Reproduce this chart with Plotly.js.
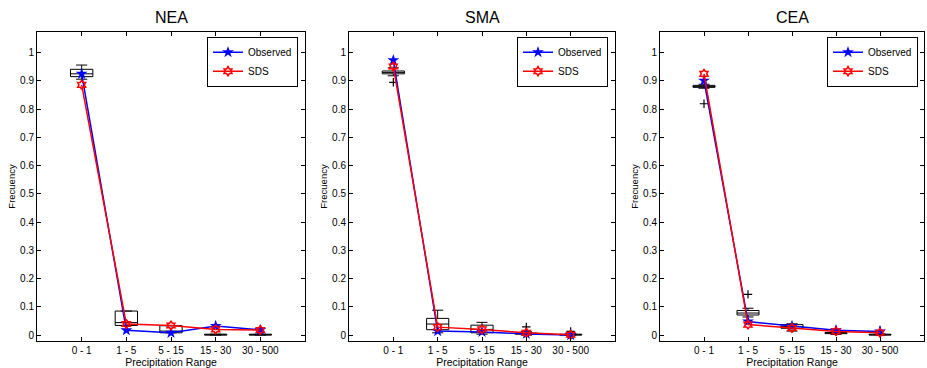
<!DOCTYPE html>
<html>
<head>
<meta charset="utf-8">
<script src="https://cdn.plot.ly/plotly-3.0.1.min.js"></script>
<style>html,body{margin:0;padding:0;background:#fff;}#chart{width:927px;height:368px;}</style>
</head>
<body>
<div id="chart"></div>
<script>
// ---- data ----
const categories = ['0 - 1', '1 - 5', '5 - 15', '15 - 30', '30 - 500'];
const regions = ['NEA', 'SMA', 'CEA'];

const neaObserved = [0.925, 0.017, 0.008, 0.032, 0.018];
const neaSDS      = [0.886, 0.039, 0.034, 0.020, 0.018];
const neaQ1       = [0.915, 0.034, 0.008, 0.000, 0.000];
const neaMedian   = [0.925, 0.044, 0.014, 0.001, 0.001];
const neaQ3       = [0.941, 0.085, 0.033, 0.003, 0.003];
const neaLower    = [0.906, 0.034, 0.008, 0.000, 0.000];
const neaUpper    = [0.956, 0.085, 0.033, 0.003, 0.003];
const neaOutlierX = [];
const neaOutlierY = [];

const smaObserved = [0.973, 0.014, 0.011, 0.004, 0.000];
const smaSDS      = [0.951, 0.028, 0.020, 0.008, 0.001];
const smaQ1       = [0.925, 0.019, 0.008, 0.003, 0.000];
const smaMedian   = [0.930, 0.039, 0.020, 0.005, 0.001];
const smaQ3       = [0.935, 0.059, 0.035, 0.007, 0.003];
const smaLower    = [0.918, 0.008, 0.003, 0.000, 0.000];
const smaUpper    = [0.946, 0.088, 0.045, 0.012, 0.006];
const smaOutlierX = ['0 - 1', '15 - 30', '30 - 500'];
const smaOutlierY = [0.895, 0.029, 0.013];

const ceaObserved = [0.901, 0.048, 0.032, 0.017, 0.013];
const ceaSDS      = [0.925, 0.037, 0.025, 0.013, 0.008];
const ceaQ1       = [0.877, 0.071, 0.024, 0.005, 0.000];
const ceaMedian   = [0.880, 0.078, 0.030, 0.007, 0.001];
const ceaQ3       = [0.884, 0.087, 0.037, 0.009, 0.003];
const ceaLower    = [0.874, 0.064, 0.014, 0.002, 0.000];
const ceaUpper    = [0.888, 0.095, 0.040, 0.012, 0.004];
const ceaOutlierX = ['0 - 1', '1 - 5', '15 - 30', '30 - 500'];
const ceaOutlierY = [0.819, 0.144, 0.018, 0.016];

const yTicks = [0, 0.1, 0.2, 0.3, 0.4, 0.5, 0.6, 0.7, 0.8, 0.9, 1];

// ---- build ----
const panels = [
  {obs: neaObserved, sds: neaSDS, q1: neaQ1, med: neaMedian, q3: neaQ3, lo: neaLower, hi: neaUpper, ox: neaOutlierX, oy: neaOutlierY},
  {obs: smaObserved, sds: smaSDS, q1: smaQ1, med: smaMedian, q3: smaQ3, lo: smaLower, hi: smaUpper, ox: smaOutlierX, oy: smaOutlierY},
  {obs: ceaObserved, sds: ceaSDS, q1: ceaQ1, med: ceaMedian, q3: ceaQ3, lo: ceaLower, hi: ceaUpper, ox: ceaOutlierX, oy: ceaOutlierY}
];

const W = 927, H = 368;
const xPix = [[37, 305], [349, 615], [660, 924]];
const yPix = [32.3, 340.7];
const FONT = 'Liberation Sans, Arial, Helvetica, sans-serif';

const traces = [];
const layout = {
  width: W, height: H,
  margin: {l: 0, r: 0, t: 0, b: 0},
  paper_bgcolor: '#fff', plot_bgcolor: '#fff',
  font: {family: FONT, size: 10, color: '#000'},
  showlegend: true,
  annotations: []
};

panels.forEach((p, i) => {
  const s = i === 0 ? '' : String(i + 1);
  const xa = 'x' + s, ya = 'y' + s;
  const lg = i === 0 ? 'legend' : 'legend' + (i + 1);

  traces.push({
    type: 'box', x: categories, q1: p.q1, median: p.med, q3: p.q3,
    lowerfence: p.lo, upperfence: p.hi,
    width: 0.5, whiskerwidth: 0.5, boxpoints: false,
    line: {color: '#000', width: 1}, fillcolor: 'rgba(0,0,0,0)',
    xaxis: xa, yaxis: ya, showlegend: false, hoverinfo: 'skip'
  });
  traces.push({
    type: 'scatter', mode: 'markers', x: p.ox, y: p.oy,
    marker: {symbol: 'cross-thin', size: 6, line: {color: '#000', width: 1.2}},
    xaxis: xa, yaxis: ya, showlegend: false, hoverinfo: 'skip'
  });
  traces.push({
    type: 'scatter', mode: 'lines+markers', name: 'Observed', x: categories, y: p.obs,
    line: {color: '#0000ff', width: 1.5},
    marker: {symbol: 'star', size: 9, color: '#0000ff'},
    xaxis: xa, yaxis: ya, legend: lg
  });
  traces.push({
    type: 'scatter', mode: 'lines+markers', name: 'SDS', x: categories, y: p.sds,
    line: {color: '#ff0000', width: 1.5},
    marker: {symbol: 'hexagram-open', size: 7, color: '#ff0000', line: {width: 1.5, color: '#ff0000'}},
    xaxis: xa, yaxis: ya, legend: lg
  });

  const dom = [xPix[i][0] / W, xPix[i][1] / W];
  layout['xaxis' + s] = {
    domain: dom, anchor: ya, type: 'category',
    categoryorder: 'array', categoryarray: categories,
    range: [-1, 5], showgrid: false, zeroline: false,
    showline: true, linecolor: '#000', linewidth: 1, mirror: 'ticks',
    ticks: 'inside', ticklen: 4, tickcolor: '#000',
    tickfont: {family: FONT, size: 10, color: '#000'},
    title: {text: 'Precipitation Range', font: {family: FONT, size: 10.5, color: '#000'}, standoff: 2}
  };
  layout['yaxis' + s] = {
    domain: [1 - yPix[1] / H, 1 - yPix[0] / H], anchor: xa,
    range: [-0.02, 1.072], tickvals: yTicks, ticktext: yTicks.map(v => String(v)),
    showgrid: false, zeroline: false,
    showline: true, linecolor: '#000', linewidth: 1, mirror: 'ticks',
    ticks: 'inside', ticklen: 4, tickcolor: '#000',
    tickfont: {family: FONT, size: 10, color: '#000'},
    title: {text: 'Frecuency', font: {family: FONT, size: 9.5, color: '#000'}, standoff: 2}
  };
  layout[lg] = {
    x: [298, 608, 918][i] / W, xanchor: 'right',
    y: 1 - 36.7 / H, yanchor: 'top',
    bgcolor: '#fff', bordercolor: '#000', borderwidth: 1,
    font: {family: FONT, size: 10, color: '#000'},
    itemwidth: 30, tracegroupgap: 0
  };
  layout.annotations.push({
    text: regions[i], xref: 'paper', yref: 'paper',
    x: (dom[0] + dom[1]) / 2, y: 1 - 17 / H, xanchor: 'center', yanchor: 'middle',
    showarrow: false, font: {family: FONT, size: 16, color: '#000'}
  });
});

Plotly.newPlot('chart', traces, layout, {staticPlot: true, displayModeBar: false});
</script>
</body>
</html>
